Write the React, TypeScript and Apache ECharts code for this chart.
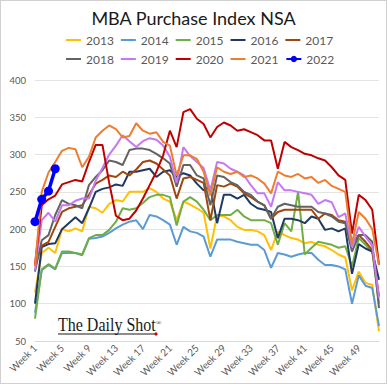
import React, { useEffect, useRef } from "react";
import * as echarts from "echarts";

const weeks: string[] = Array.from({ length: 52 }, (_, i) => `Week ${i + 1}`);

const years = ["2013", "2014", "2015", "2016", "2017", "2018", "2019", "2020", "2021", "2022"];
const colors = ["#FFC000", "#5B9BD5", "#70AD47", "#1F3864", "#9E480E", "#636363", "#C678F0", "#C00000", "#ED7D31", "#0000FF"];

const y2013 = [115, 168, 175, 168, 200, 197, 201, 197, 230, 228, 222, 234, 239, 237, 250, 250, 250, 255, 250, 241, 237, 212, 237, 233, 228, 222, 174, 219, 217, 212, 203, 199, 199, 197, 192, 172, 197, 192, 188, 186, 181, 183, 179, 177, 172, 166, 162, 118, 143, 128, 125, 63];
const y2014 = [88, 145, 152, 146, 168, 168, 168, 165, 187, 188, 190, 195, 201, 206, 210, 212, 200, 219, 217, 212, 206, 179, 203, 197, 195, 190, 163, 186, 186, 186, 183, 181, 179, 179, 172, 148, 168, 166, 163, 166, 168, 168, 159, 152, 152, 150, 146, 100, 138, 124, 121, 70];
const y2015 = [80, 146, 153, 147, 170, 170, 168, 166, 188, 192, 192, 199, 210, 228, 226, 228, 235, 243, 246, 246, 243, 205, 237, 243, 237, 226, 212, 219, 219, 219, 226, 217, 212, 212, 212, 208, 179, 208, 197, 250, 166, 175, 183, 181, 179, 175, 177, 150, 188, 179, 170, 100];
const y2016 = [100, 176, 180, 181, 200, 208, 216, 208, 228, 250, 254, 256, 260, 258, 277, 277, 279, 281, 270, 277, 279, 270, 275, 272, 261, 252, 257, 208, 246, 246, 241, 246, 234, 228, 226, 223, 188, 214, 214, 212, 208, 217, 214, 199, 201, 197, 201, 140, 180, 174, 170, 132];
const y2017 = [152, 178, 183, 203, 223, 228, 230, 232, 246, 261, 266, 272, 270, 277, 272, 280, 290, 292, 288, 280, 272, 241, 268, 270, 266, 262, 212, 259, 257, 261, 257, 248, 243, 237, 232, 214, 223, 226, 226, 226, 226, 226, 214, 221, 219, 212, 210, 181, 192, 183, 172, 110];
const y2018 = [143, 185, 192, 219, 239, 234, 232, 228, 259, 270, 279, 292, 290, 286, 306, 308, 308, 306, 301, 295, 288, 257, 286, 286, 272, 268, 232, 272, 270, 263, 259, 250, 246, 237, 232, 214, 230, 234, 232, 230, 230, 230, 223, 221, 217, 210, 208, 170, 192, 192, 183, 94];
const y2019 = [145, 212, 222, 210, 232, 232, 238, 241, 241, 265, 282, 300, 312, 326, 318, 310, 318, 322, 320, 312, 297, 262, 310, 298, 290, 282, 252, 290, 288, 281, 277, 272, 259, 248, 248, 230, 263, 252, 252, 250, 248, 246, 234, 239, 236, 216, 221, 176, 203, 190, 178, 108];
const y2020 = [152, 232, 240, 245, 260, 263, 266, 264, 290, 313, 313, 262, 218, 212, 214, 225, 241, 259, 277, 299, 332, 310, 357, 361, 348, 341, 323, 337, 343, 339, 332, 334, 330, 326, 319, 319, 281, 317, 310, 306, 301, 299, 295, 292, 283, 272, 266, 194, 246, 239, 226, 152];
const y2021 = [150, 250, 276, 290, 305, 309, 307, 283, 297, 323, 332, 339, 334, 323, 325, 342, 332, 328, 330, 317, 312, 272, 299, 299, 294, 277, 245, 283, 277, 274, 277, 270, 272, 268, 261, 248, 277, 272, 270, 274, 268, 270, 262, 266, 258, 254, 250, 180, 223, 214, 200, 152];
const y2022 = [210, 240, 251, 281];

const seriesData = [y2013, y2014, y2015, y2016, y2017, y2018, y2019, y2020, y2021, y2022];

const FONT = "Lato, 'Noto Sans', sans-serif";
const LINE_ICON = "path://M0,0H15V2H0Z";

export default function App() {
  const ref = useRef<HTMLDivElement>(null);
  useEffect(() => {
    if (!ref.current) return;
    const chart = echarts.init(ref.current, null, { renderer: "svg" });
    const series = years.map((y, i) => {
      const is22 = y === "2022";
      return {
        name: y,
        type: "line",
        data: seriesData[i],
        symbol: is22 ? "circle" : "none",
        symbolSize: is22 ? 9 : 0,
        showSymbol: is22,
        showAllSymbol: true,
        lineStyle: { width: is22 ? 3.5 : 2, color: colors[i] },
        itemStyle: { color: colors[i] },
        emphasis: { disabled: true },
        z: 2 + i,
      };
    });
    const legendItems = (names: string[]) =>
      names.map((n) => (n === "2022" ? { name: n } : { name: n, icon: LINE_ICON }));
    const legendCommon = {
      left: 60,
      itemWidth: 15,
      itemHeight: 8,
      itemGap: 7,
      textStyle: { fontSize: 12, color: "#595959", fontFamily: FONT },
      selectedMode: false,
    };
    chart.setOption({
      animation: false,
      title: {
        text: "MBA Purchase Index NSA",
        left: "center",
        top: 3,
        textStyle: { fontSize: 18, fontWeight: "normal", color: "#1a1a1a", fontFamily: FONT },
      },
      legend: [
        { ...legendCommon, top: 28, data: legendItems(years.slice(0, 5)) },
        { ...legendCommon, top: 47, data: legendItems(years.slice(5)) },
      ],
      grid: { left: 34, right: 7, top: 79, bottom: 42 },
      xAxis: {
        type: "category",
        data: weeks,
        boundaryGap: false,
        axisTick: { show: false },
        axisLine: { show: true, lineStyle: { color: "#d9d9d9" } },
        axisLabel: {
          interval: 3,
          rotate: 45,
          fontSize: 10,
          color: "#595959",
          fontFamily: FONT,
          margin: 5,
        },
      },
      yAxis: {
        type: "value",
        min: 50,
        max: 400,
        interval: 50,
        axisLine: { show: false },
        axisTick: { show: false },
        axisLabel: { fontSize: 9.5, color: "#595959", fontFamily: FONT, margin: 9 },
        splitLine: { lineStyle: { color: "#e3e3e3", width: 1 } },
      },
      graphic: [
        {
          type: "text",
          left: 57,
          top: 315,
          scaleX: 0.89,
          style: {
            text: "The Daily Shot",
            fontSize: 18,
            fontFamily: "'Liberation Serif', 'DejaVu Serif', serif",
            fill: "#1a1a1a",
          },
        },
        {
          type: "line",
          shape: { x1: 57, y1: 333, x2: 155, y2: 333 },
          style: { stroke: "#1a1a1a", lineWidth: 1.2 },
        },
        {
          type: "circle",
          shape: { cx: 155, cy: 333, r: 1.6 },
          style: { fill: "#d00000" },
        },
        {
          type: "text",
          left: 155,
          top: 318,
          style: { text: "®", fontSize: 7, fill: "#1a1a1a", fontFamily: "'Liberation Serif', serif" },
        },
      ],
      series,
    });
    return () => chart.dispose();
  }, []);
  return (
    <div
      style={{
        position: "absolute",
        left: 0,
        top: 0,
        width: 387,
        height: 384,
        boxSizing: "border-box",
        border: "1px solid #d0d0d0",
        background: "#fff",
      }}
    >
      <div ref={ref} style={{ width: 385, height: 382 }} />
    </div>
  );
}
